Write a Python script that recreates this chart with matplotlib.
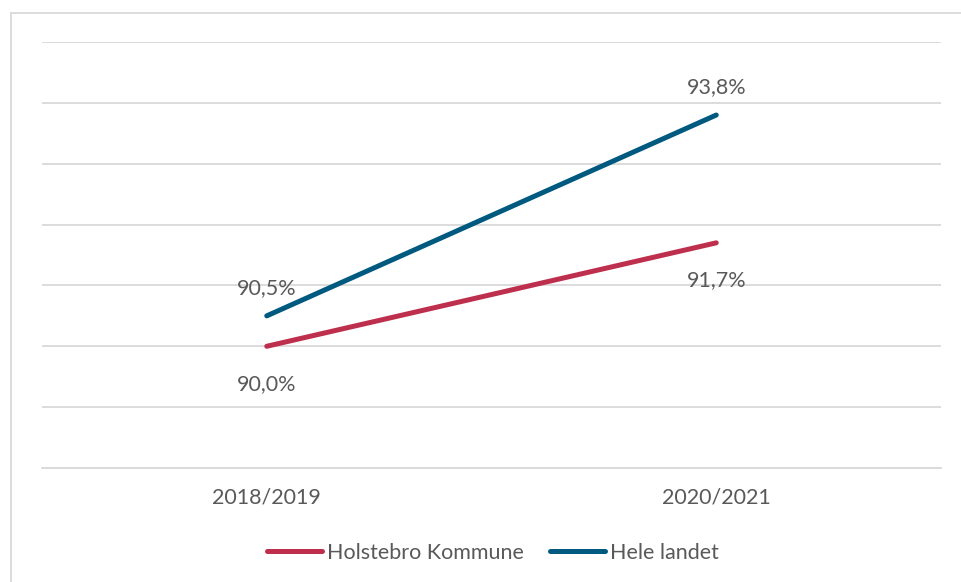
import matplotlib
matplotlib.use("Agg")
import matplotlib.pyplot as plt
from matplotlib.lines import Line2D

categories = ["2018/2019", "2020/2021"]
holstebro = [90.0, 91.7]
hele_landet = [90.5, 93.8]
series_names = ["Holstebro Kommune", "Hele landet"]

plt.rcParams['font.family'] = ['Lato', 'DejaVu Sans']
text_color = "#595959"
red = "#BE2F4E"
blue = "#005A80"
fs = 15.5

fig = plt.figure(figsize=(9.62, 5.82), dpi=100)
ax = fig.add_axes([42/962, 1-468/582, (941-42)/962, (468-42)/582])

x = list(range(len(categories)))
ax.plot(x, holstebro, color=red, lw=3.6, solid_capstyle='round')
ax.plot(x, hele_landet, color=blue, lw=3.6, solid_capstyle='round')

ax.set_xlim(-0.5, len(categories) - 0.5)
ax.set_ylim(88, 95)
ax.set_yticks(range(88, 96))
ax.yaxis.grid(True, color="#D9D9D9", lw=1.3)
ax.set_axisbelow(True)
ax.tick_params(axis='y', left=False, labelleft=False)
ax.tick_params(axis='x', length=0, pad=14, labelsize=fs, labelcolor=text_color)
ax.set_xticks(x)
ax.set_xticklabels(categories)
for s in ['top', 'right', 'left']:
    ax.spines[s].set_visible(False)
ax.spines['bottom'].set_color("#D9D9D9")
ax.spines['bottom'].set_linewidth(1.3)

def fmt(v):
    return f"{v:.1f}%".replace(".", ",")

for i, v in enumerate(hele_landet):
    ax.annotate(fmt(v), (i, v), xytext=(0, 20), textcoords='offset points',
                ha='center', va='center', fontsize=fs, color=text_color)
for i, v in enumerate(holstebro):
    ax.annotate(fmt(v), (i, v), xytext=(0, -27), textcoords='offset points',
                ha='center', va='center', fontsize=fs, color=text_color)

handles = [Line2D([0], [0], color=red, lw=3.6, solid_capstyle='round'),
           Line2D([0], [0], color=blue, lw=3.6, solid_capstyle='round')]
leg = fig.legend(handles, series_names, loc='center', bbox_to_anchor=(493/962, 1-553/582),
                 ncol=2, frameon=False, fontsize=fs, handlelength=2.55,
                 handletextpad=0.2, columnspacing=1.25)
for t in leg.get_texts():
    t.set_color(text_color)

# figure border (left and top)
fig.add_artist(Line2D([11/962, 11/962], [0, 1-13/582], transform=fig.transFigure,
                      color="#D9D9D9", lw=1.3))
fig.add_artist(Line2D([11/962, 1], [1-13/582, 1-13/582], transform=fig.transFigure,
                      color="#D9D9D9", lw=1.3))

fig.savefig("out.png", dpi=100)
